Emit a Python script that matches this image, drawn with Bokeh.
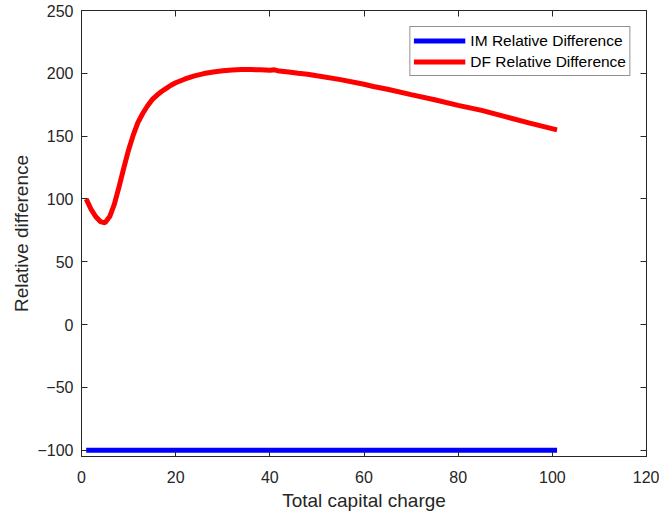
from bokeh.plotting import figure
from bokeh.models import Range1d, LinearAxis, FixedTicker, CustomJSTickFormatter, Legend, LegendItem
from bokeh.embed import file_html
from bokeh.resources import INLINE

# Data
x_df = [1, 2, 3, 4, 5, 6, 7, 8, 9, 10, 11, 12, 13, 14, 15, 16, 17, 18, 19, 20,
        22, 24, 26, 28, 30, 32, 34, 36, 38, 40, 41, 42, 44, 46, 48, 50, 55, 60,
        62, 65, 70, 75, 80, 85, 90, 95, 101]
y_df = [100, 92, 86, 82, 81, 86, 96, 110, 125, 139, 151, 161, 168, 174, 179,
        182.5, 185.5, 188, 190.5, 192.5, 195.5, 198, 199.8, 201, 202, 202.6, 203,
        203, 202.8, 202.4, 202.8, 201.8, 201, 200, 199.3, 198, 195, 191.3,
        189.5, 187.3, 183, 179, 174.5, 170.5, 165.5, 160.5, 155]
x_im = [1, 101]
y_im = [-100, -100]

x_ticks = [0, 20, 40, 60, 80, 100, 120]
y_ticks = [-100, -50, 0, 50, 100, 150, 200, 250]

FONT = "Liberation Sans"
TXT = "#262626"

p = figure(width=659, height=516, output_backend="svg", toolbar_location=None,
           x_range=Range1d(0, 120), y_range=Range1d(-105, 250),
           min_border_left=81, min_border_right=13, min_border_top=10, min_border_bottom=60)
p.background_fill_color = "white"
p.border_fill_color = "white"
p.outline_line_color = TXT
p.outline_line_width = 1
p.xgrid.visible = False
p.ygrid.visible = False

r_im = p.line(x_im, y_im, line_color="#0000ff", line_width=5)
r_df = p.line(x_df, y_df, line_color="#ff0000", line_width=5)

for ax in [p.xaxis[0], p.yaxis[0]]:
    ax.major_tick_in = 6
    ax.major_tick_out = 0
    ax.minor_tick_line_color = None
    ax.axis_line_color = TXT
    ax.major_tick_line_color = TXT
    ax.major_label_text_font = FONT
    ax.major_label_text_font_size = "16px"
    ax.major_label_text_color = TXT
    ax.axis_label_text_font = FONT
    ax.axis_label_text_font_size = "19px"
    ax.axis_label_text_font_style = "normal"
    ax.axis_label_text_color = TXT

p.xaxis[0].ticker = FixedTicker(ticks=x_ticks)
p.yaxis[0].ticker = FixedTicker(ticks=y_ticks)
p.xaxis[0].axis_label = "Total capital charge"
p.yaxis[0].axis_label = "Relative difference"
p.xaxis[0].major_label_standoff = 14
p.yaxis[0].major_label_standoff = 8
p.xaxis[0].axis_label_standoff = 4
p.yaxis[0].axis_label_standoff = 2

# box ticks on top and right (inside)
top = LinearAxis(ticker=FixedTicker(ticks=x_ticks), formatter=CustomJSTickFormatter(code="return ''"))
right = LinearAxis(ticker=FixedTicker(ticks=y_ticks), formatter=CustomJSTickFormatter(code="return ''"))
for ax in [top, right]:
    ax.major_tick_in = 6
    ax.major_tick_out = 0
    ax.minor_tick_line_color = None
    ax.axis_line_color = TXT
    ax.major_tick_line_color = TXT
    ax.major_label_standoff = 0
    ax.major_label_text_font_size = "0px"
p.add_layout(top, "above")
p.add_layout(right, "right")

legend = Legend(items=[LegendItem(label="IM Relative Difference", renderers=[r_im]),
                       LegendItem(label="DF Relative Difference", renderers=[r_df])],
                location="top_right")
legend.margin = 16
legend.padding = 3
legend.spacing = 0
legend.glyph_width = 52
legend.glyph_height = 21
legend.label_height = 21
legend.label_standoff = 5
legend.label_text_font = FONT
legend.label_text_font_size = "15.5px"
legend.label_text_color = "#000000"
legend.border_line_color = TXT
legend.border_line_width = 1
legend.background_fill_color = "white"
p.add_layout(legend, "center")

open("out.html", "w").write(file_html(p, INLINE))
